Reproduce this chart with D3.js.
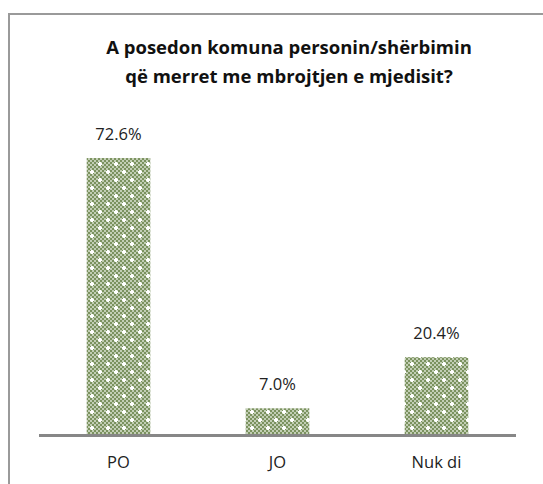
<!DOCTYPE html>
<html><head><meta charset="utf-8">
<script src="https://cdn.jsdelivr.net/npm/d3@7"></script>
<style>body{margin:0;background:#fff}svg{display:block}</style>
</head><body>
<script>
const categories = ["PO", "JO", "Nuk di"];
const values = [72.6, 7.0, 20.4];
const valueLabels = ["72.6%", "7.0%", "20.4%"];
const titleLines = ["A posedon komuna personin/shërbimin", "që merret me mbrojtjen e mjedisit?"];

const W = 543, H = 484;
const svg = d3.select("body").append("svg").attr("width", W).attr("height", H);
const font = "'Open Sans', sans-serif";

const defs = svg.append("defs");
const pat = defs.append("pattern").attr("id", "dots").attr("patternUnits", "userSpaceOnUse")
  .attr("width", 16).attr("height", 16);
pat.append("rect").attr("width", 16).attr("height", 16).attr("fill", "#c2ceb4");
for (let i = 0; i < 8; i++) for (let j = 0; j < 8; j++) {
  if ((i + j) % 2 === 0) pat.append("rect").attr("x", i*2).attr("y", j*2).attr("width", 2).attr("height", 2).attr("fill", "#7b925f");
}
[[4,4],[12,12]].forEach(([cx,cy]) => {
  pat.append("rect").attr("x", cx-1).attr("y", cy-2).attr("width", 2).attr("height", 4).attr("fill", "#fff");
  pat.append("rect").attr("x", cx-2).attr("y", cy-1).attr("width", 4).attr("height", 2).attr("fill", "#fff");
});

// frame
svg.append("path").attr("d", "M9,484 V14 H543").attr("fill", "none").attr("stroke", "#9a9a9a").attr("stroke-width", 2);

const x = d3.scaleBand().domain(categories).range([39, 516]).paddingInner(0.6).paddingOuter(0.3);
const y = d3.scaleLinear().domain([0, 80]).range([435, 129.8]);

svg.selectAll("rect.bar").data(values).enter().append("rect").attr("class", "bar")
  .attr("x", (d, i) => x(categories[i])).attr("width", x.bandwidth())
  .attr("y", d => y(d)).attr("height", d => y(0) - y(d)).attr("fill", "url(#dots)");

svg.append("line").attr("x1", 39).attr("x2", 516).attr("y1", 435.5).attr("y2", 435.5)
  .attr("stroke", "#878787").attr("stroke-width", 3);

svg.selectAll("text.val").data(values).enter().append("text").attr("class", "val")
  .attr("x", (d, i) => x(categories[i]) + x.bandwidth()/2).attr("y", d => y(d) - 18)
  .attr("text-anchor", "middle").attr("font-family", font).attr("font-size", 16.5).attr("fill", "#222")
  .text((d, i) => valueLabels[i]);

svg.selectAll("text.cat").data(categories).enter().append("text").attr("class", "cat")
  .attr("x", d => x(d) + x.bandwidth()/2).attr("y", 468)
  .attr("text-anchor", "middle").attr("font-family", font).attr("font-size", 16.5).attr("fill", "#222")
  .text(d => d);

svg.selectAll("text.title").data(titleLines).enter().append("text").attr("class", "title")
  .attr("x", 289).attr("y", (d, i) => 54 + i * 29)
  .attr("text-anchor", "middle").attr("font-family", font).attr("font-weight", "bold").attr("font-size", 18.5).attr("fill", "#111")
  .text(d => d);
</script>
</body></html>
